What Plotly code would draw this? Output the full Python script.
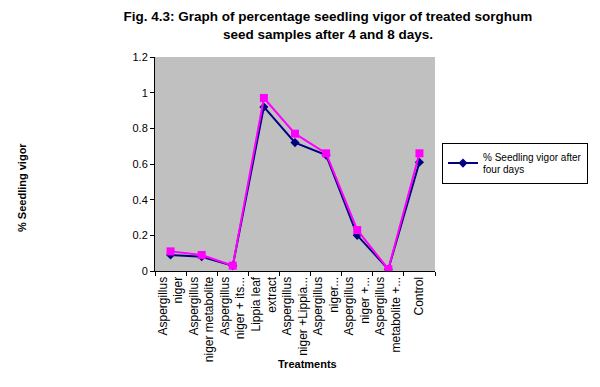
import plotly.graph_objects as go

categories = [
    "Aspergillus<br>niger",
    "Aspergillus<br>niger metabolite",
    "Aspergillus<br>niger + its...",
    "Lippia leaf<br>extract",
    "Aspergillus<br>niger +Lippia...",
    "Aspergillus<br>niger...",
    "Aspergillus<br>niger +...",
    "Aspergillus<br>metabolite +...",
    "Control",
]
vigor_4_days = [0.09, 0.08, 0.03, 0.92, 0.72, 0.65, 0.20, 0.01, 0.61]
vigor_8_days = [0.11, 0.09, 0.03, 0.97, 0.77, 0.66, 0.23, 0.01, 0.66]
y_ticks = [0, 0.2, 0.4, 0.6, 0.8, 1, 1.2]
y_tick_labels = ["0", "0.2", "0.4", "0.6", "0.8", "1", "1.2"]

font = "Liberation Sans, Arial, sans-serif"

fig = go.Figure()
fig.add_trace(go.Scatter(
    x=categories, y=vigor_4_days, mode="lines+markers",
    name="% Seedling vigor after<br>four days",
    line=dict(color="#000080", width=2),
    marker=dict(symbol="diamond", size=7, color="#000080"),
    showlegend=True,
))
fig.add_trace(go.Scatter(
    x=categories, y=vigor_8_days, mode="lines+markers",
    name="% Seedling vigor after eight days",
    line=dict(color="#FF00FF", width=2),
    marker=dict(symbol="square", size=8, color="#FF00FF"),
    showlegend=False,
))

fig.update_layout(
    width=592, height=379,
    margin=dict(l=147, r=160, t=49, b=116),
    paper_bgcolor="white",
    plot_bgcolor="#c0c0c0",
    font=dict(family=font, color="black", size=11),
    title=dict(
        text="<b>Fig. 4.3: Graph of percentage seedling vigor of treated sorghum<br>seed samples after 4 and 8 days.</b>",
        x=0.5405, xanchor="center", y=0.965, yanchor="top",
        font=dict(size=13.5, family=font),
    ),
    xaxis=dict(
        type="category", tickangle=-90, showline=True, linecolor="black", linewidth=1,
        ticks="outside", ticklen=4, tickcolor="black", tickson="boundaries",
        showgrid=False, range=[-0.5, 8.5], tickfont=dict(size=12),
    ),
    yaxis=dict(
        range=[0, 1.2], tickvals=y_ticks, ticktext=y_tick_labels,
        showline=True, linecolor="black", linewidth=1, ticks="outside", ticklen=4,
        tickcolor="black", showgrid=False, zeroline=False, tickfont=dict(size=11),
    ),
    legend=dict(
        x=1.025, y=0.6, xanchor="left", yanchor="top",
        bordercolor="black", borderwidth=1, bgcolor="white",
        font=dict(size=10), itemwidth=30, tracegroupgap=0,
    ),
    annotations=[
        dict(
            text="<b>% Seedling vigor</b>", textangle=-90, xref="paper", yref="paper",
            x=-0.477, y=0.39, xanchor="center", yanchor="middle", showarrow=False,
            font=dict(size=11),
        ),
        dict(
            text="<b>Treatments</b>", xref="paper", yref="paper",
            x=0.545, y=-0.435, xanchor="center", yanchor="middle", showarrow=False,
            font=dict(size=11),
        ),
    ],
)

fig.write_html("out.html")
